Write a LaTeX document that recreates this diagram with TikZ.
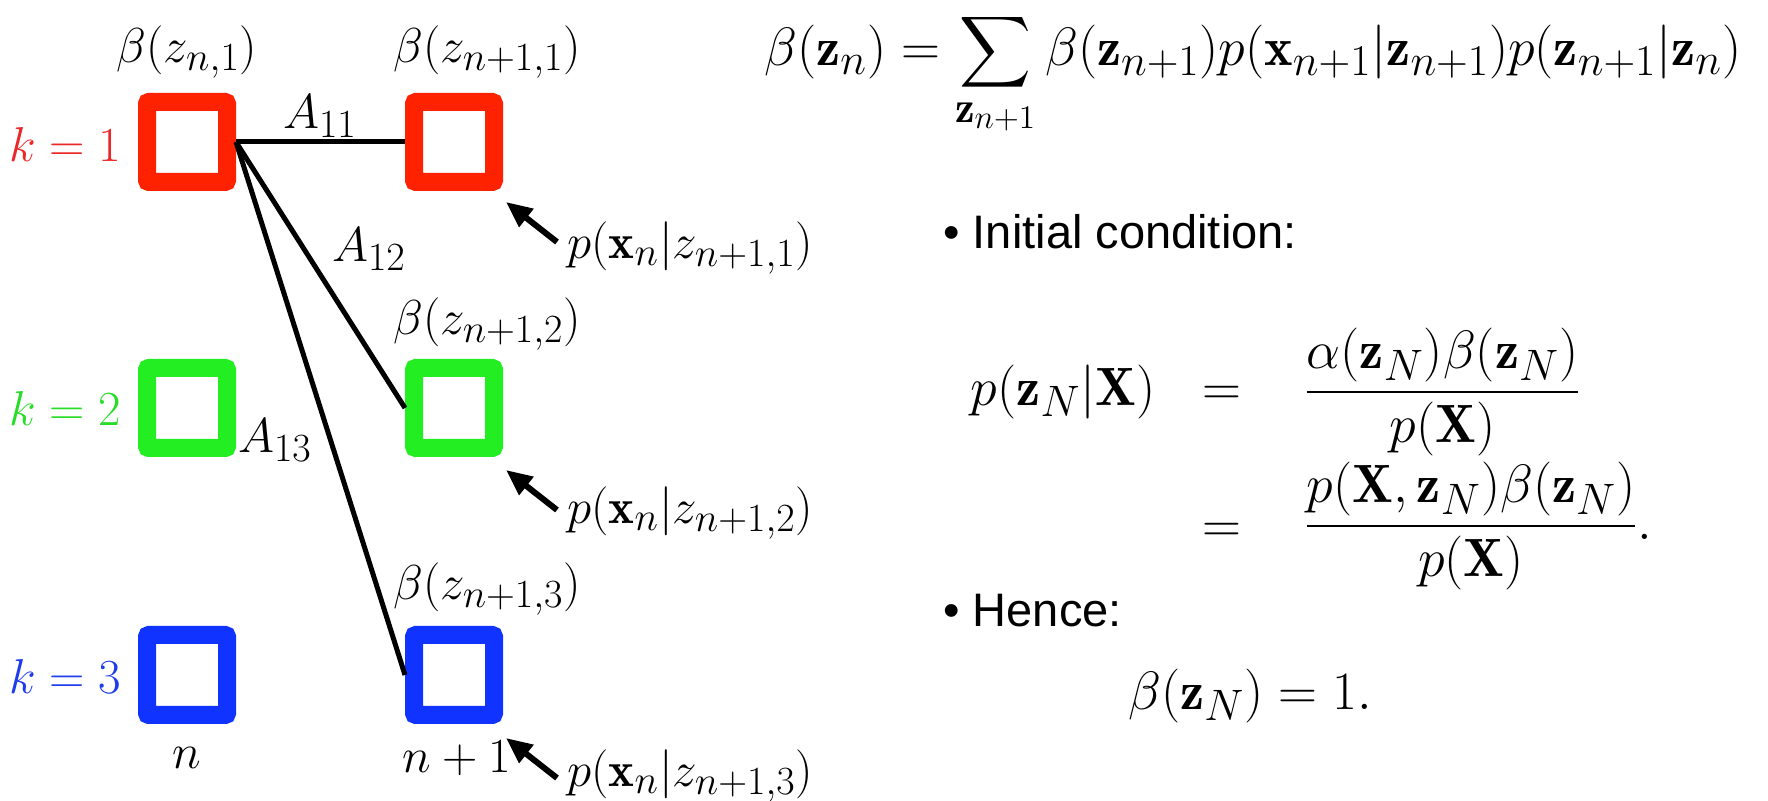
\documentclass[tikz,border=0pt]{standalone}
\usepackage{fix-cm}
\usepackage{amsmath}
\usepackage{fontspec}
\newfontfamily\sansf{Liberation Sans}
\usetikzlibrary{arrows.meta}
\DeclareMathSizes{24.5}{24.5}{20}{15}
\DeclareMathSizes{27}{27}{22}{16.5}
\definecolor{bred}{RGB}{255,34,0}
\definecolor{bgreen}{RGB}{34,238,34}
\definecolor{bblue}{RGB}{17,51,255}
\definecolor{kred}{RGB}{235,40,40}
\definecolor{kgreen}{RGB}{40,220,40}
\definecolor{kblue}{RGB}{30,60,235}
\begin{document}
\begin{tikzpicture}[x=0.5pt,y=-0.5pt,
  hbox/.style={draw=#1, line width=9pt, rounded corners=1pt, minimum size=40pt, inner sep=0pt, fill=white},
  lbl/.style={inner sep=0pt, font=\fontsize{24.5}{29}\selectfont},
  rlbl/.style={inner sep=0pt, font=\fontsize{27}{32}\selectfont},
  txt/.style={inner sep=0pt, font=\fontsize{23.5}{28}\sansf},
  conn/.style={line width=2.5pt},
  obs/.style={line width=3pt, -{Triangle[length=13pt,width=11pt]}}
]
\useasboundingbox (0,0) rectangle (1768,801);
% boxes
\node[hbox=bred] (r1) at (187,142) {};
\node[hbox=bred] (r2) at (454,142) {};
\node[hbox=bgreen] (g1) at (187,408) {};
\node[hbox=bgreen] (g2) at (454,408) {};
\node[hbox=bblue] (b1) at (187,675) {};
\node[hbox=bblue] (b2) at (454,675) {};
% state labels
\node[lbl, anchor=east, text=kred] (k1) at (121,144) {$k=1$};
\node[lbl, anchor=east, text=kgreen] (k2) at (121,408) {$k=2$};
\node[lbl, anchor=east, text=kblue] (k3) at (121,676) {$k=3$};
% beta labels
\node[lbl] (bn1) at (187,52) {$\beta(z_{n,1})$};
\node[lbl, anchor=west] (bm1) at (393,52) {$\beta(z_{n+1,1})$};
\node[lbl, anchor=west] (bm2) at (393,324) {$\beta(z_{n+1,2})$};
\node[lbl, anchor=west] (bm3) at (393,589) {$\beta(z_{n+1,3})$};
% time labels
\node[lbl] (tn) at (187,758) {$n$};
\node[lbl] (tn1) at (457,758) {$n+1$};
% transitions
\draw[conn] (r1.east) -- (r2.west);
\draw[conn] (r1.east) -- (g2.west);
\draw[conn] (r1.east) -- (b2.west);
\node[lbl] (a11) at (320,116) {$A_{11}$};
\node[lbl] (a12) at (369,249) {$A_{12}$};
\node[lbl] (a13) at (275,440) {$A_{13}$};
% emissions
\node[lbl, anchor=west] (p1) at (567,248) {$p(\mathbf{x}_n|z_{n+1,1})$};
\node[lbl, anchor=west] (p2) at (567,513) {$p(\mathbf{x}_n|z_{n+1,2})$};
\node[lbl, anchor=west] (p3) at (567,776) {$p(\mathbf{x}_n|z_{n+1,3})$};
\coordinate (s1) at (557,242); \coordinate (e1) at (506,202);
\coordinate (s2) at (557,510); \coordinate (e2) at (506,470);
\coordinate (s3) at (557,778); \coordinate (e3) at (506,738);
\draw[obs] (s1) -- (e1);
\draw[obs] (s2) -- (e2);
\draw[obs] (s3) -- (e3);
% right side
\node[rlbl, anchor=base west] (eq1) at (764,66) {$\displaystyle \beta(\mathbf{z}_n) = \sum_{\mathbf{z}_{n+1}} \beta(\mathbf{z}_{n+1})p(\mathbf{x}_{n+1}|\mathbf{z}_{n+1})p(\mathbf{z}_{n+1}|\mathbf{z}_n)$};
\node[txt, anchor=west] (ic) at (943,232) {\textbullet\ Initial condition:};
\node[rlbl, anchor=mid east] (lhs) at (1156,401) {$p(\mathbf{z}_N|\mathbf{X})$};
\node[rlbl, anchor=mid] (eqa) at (1222,401) {$=$};
\node[rlbl, anchor=mid west] (f1) at (1304,401) {$\dfrac{\alpha(\mathbf{z}_N)\beta(\mathbf{z}_N)}{p(\mathbf{X})}$};
\node[rlbl, anchor=mid] (eqb) at (1222,538) {$=$};
\node[rlbl, anchor=mid west] (f2) at (1304,535) {$\dfrac{p(\mathbf{X},\mathbf{z}_N)\beta(\mathbf{z}_N)}{p(\mathbf{X})}.$};
\node[txt, anchor=west] (hc) at (943,611) {\textbullet\ Hence:};
\node[rlbl, anchor=west] (bn) at (1128,696) {$\beta(\mathbf{z}_N)=1.$};
\end{tikzpicture}
\end{document}
